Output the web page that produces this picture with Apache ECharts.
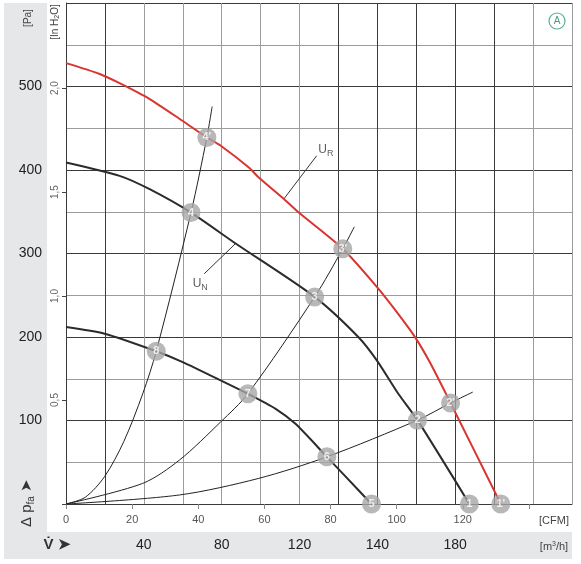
<!DOCTYPE html>
<html>
<head>
<meta charset="utf-8">
<script src="https://cdn.jsdelivr.net/npm/echarts@6/dist/echarts.min.js"></script>
<style>
html, body { margin: 0; padding: 0; background: #fff; }
#chart { width: 581px; height: 564px; }
</style>
</head>
<body>
<div id="chart"></div>
<script>
// fan curves: [CFM, Pa]
const curveUR = [[0,528],[10.2,515],[16.2,504],[25.3,485],[35.2,459],[42.6,439],[46.8,429],[55.3,403],[58.3,391],[65.4,367],[70.4,349],[83.7,305.6],[94,260],[100,230],[105.7,199],[110,170],[116.3,121],[131.5,0]];
const curveUN = [[0,409],[16.2,393],[25.3,377],[37.8,349],[51.3,312],[75.2,248],[88.4,200],[94,172],[100.5,132],[106.3,100.4],[122,0]];
const curveLow = [[0,212],[11.7,204],[27.3,183],[35.3,170],[46.8,148],[55,132],[63.4,114],[69.4,96],[78.9,56.5],[88.4,16.7],[92.4,0]];

// system resistance curves
const systemA = [[0,0],[5.8,8],[11.7,33],[17.5,75],[23.2,132],[27.3,183],[37.8,349],[42.6,439],[44.2,476]];
const systemB = [[0,0],[23.2,24.7],[34.3,52.6],[46.8,98.4],[55,132],[75.2,248],[83.7,305.6],[87.2,332]];
const systemC = [[0,0],[34.3,10.8],[58.3,30.7],[78.9,56.5],[106.3,100.4],[116.3,121],[123,134]];

// operating points [CFM, Pa, label]
const opPoints = [[122,0,'1'],[131.5,0,"1'"],[106.3,100.4,'2'],[116.3,121,"2'"],[75.2,248,'3'],[83.7,305.6,"3'"],[37.8,349,'4'],[42.6,439,"4'"],[92.4,0,'5'],[78.9,56.5,'6'],[55,132,'7'],[27.3,183,'8']];

// annotation leaders and labels
const leaderUR = [[75.8,417],[65.9,365.4]];
const leaderUN = [[51.3,312],[41.8,275.7]];
const curveLabels = [[78.6,424,'{a|U}{s|R}'],[40.6,264,'{a|U}{s|N}']];

// axis ticks
const paLabels = [100, 200, 300, 400, 500];
const cfmLabels = [0, 20, 40, 60, 80, 100, 120];
const m3hTickValues = [40, 80, 120, 160, 200];
const m3hTickLabels = ['40', '80', '120', '140', '180'];
const m3hMax = 260;
const cfmMax = 260 / 1.699;
const inH2OMax = 600 / 249.089;

const font = "'Liberation Sans Narrow', 'Liberation Sans', Arial, sans-serif";
const dark = '#3a3a3a';
const gray = '#9c9c9c';

const chart = echarts.init(document.getElementById('chart'));

const thinLine = (data) => ({
    type: 'line', data: data, xAxisIndex: 1, smooth: 0.3, symbol: 'none',
    lineStyle: { color: '#222', width: 1 }, silent: true, z: 3
});
const fanLine = (data, color) => ({
    type: 'line', data: data, xAxisIndex: 1, smooth: 0.25, symbol: 'none',
    lineStyle: { color: color, width: 2 }, silent: true, z: 4
});

const option = {
    animation: false,
    grid: { left: 66, right: 9, top: 3, bottom: 60, outerBoundsMode: 'none' },
    xAxis: [
        {
            type: 'value', min: 0, max: m3hMax, interval: 20, position: 'bottom',
            axisLine: { show: true, lineStyle: { color: dark, width: 1 } },
            axisTick: { show: false },
            axisLabel: {
                margin: 34, fontSize: 14, color: '#222', fontFamily: font,
                formatter: v => {
                    const i = m3hTickValues.indexOf(v);
                    return i >= 0 ? m3hTickLabels[i] : '';
                }
            },
            splitLine: {
                show: true,
                lineStyle: { width: 1, color: [dark, dark, gray, gray, gray, gray, gray, dark, dark, dark, dark, dark, gray, gray] }
            }
        },
        {
            type: 'value', min: 0, max: cfmMax, interval: 20, position: 'bottom',
            axisLine: { show: false },
            axisTick: { show: true, inside: false, length: 5, lineStyle: { color: '#888' } },
            axisLabel: {
                margin: 10, fontSize: 11, color: '#555', fontFamily: font, showMaxLabel: false,
                formatter: v => cfmLabels.indexOf(v) >= 0 ? String(v) : ''
            },
            splitLine: { show: false }
        }
    ],
    yAxis: [
        {
            type: 'value', min: 0, max: 600, interval: 50, position: 'left',
            axisLine: { show: true, lineStyle: { color: dark, width: 1 } },
            axisTick: { show: false },
            axisLabel: {
                margin: 24, fontSize: 14, color: '#222', fontFamily: font,
                formatter: v => paLabels.indexOf(v) >= 0 ? String(v) : ''
            },
            splitLine: { show: true, lineStyle: { width: 1, color: [dark, gray] } }
        },
        {
            type: 'value', min: 0, max: inH2OMax, interval: 0.5, position: 'left',
            axisLine: { show: false },
            axisTick: { show: true, inside: false, length: 4, lineStyle: { color: '#444' } },
            axisLabel: {
                margin: 6, rotate: 90, fontSize: 10, color: '#666', fontFamily: font,
                showMaxLabel: false,
                formatter: v => v > 0 ? v.toFixed(1).replace('.', ',') : ''
            },
            splitLine: { show: false }
        }
    ],
    series: [
        thinLine(systemA),
        thinLine(systemB),
        thinLine(systemC),
        fanLine(curveLow, '#2b2b2b'),
        fanLine(curveUN, '#2b2b2b'),
        fanLine(curveUR, '#d8352f'),
        {
            type: 'line', data: leaderUR, xAxisIndex: 1, symbol: 'none',
            lineStyle: { color: '#333', width: 1 }, silent: true, z: 3
        },
        {
            type: 'line', data: leaderUN, xAxisIndex: 1, symbol: 'none',
            lineStyle: { color: '#333', width: 1 }, silent: true, z: 3
        },
        {
            type: 'scatter', data: curveLabels, xAxisIndex: 1, symbolSize: 0, silent: true,
            label: {
                show: true, position: 'inside', formatter: p => p.data[2],
                rich: {
                    a: { fontSize: 12, color: '#333', fontFamily: font },
                    s: { fontSize: 9, color: '#333', fontFamily: font, padding: [7, 0, 0, 0] }
                }
            }
        },
        {
            type: 'scatter', data: opPoints, xAxisIndex: 1, symbol: 'circle', symbolSize: 19,
            clip: false, silent: true, z: 6,
            itemStyle: { color: '#a6a6a6' },
            label: {
                show: true, position: 'inside', formatter: p => p.data[2],
                color: '#fff', fontSize: 11, fontWeight: 'bold', fontFamily: "'Liberation Sans', Arial, sans-serif"
            }
        }
    ],
    graphic: [
        // gray label bands
        { type: 'rect', z: -10, shape: { x: 4, y: 3, width: 43, height: 529 }, style: { fill: '#e6e7e8' } },
        { type: 'rect', z: -10, shape: { x: 4, y: 532, width: 568, height: 27 }, style: { fill: '#e6e7e8' } },
        {
            type: 'text', x: 28, y: 18, rotation: Math.PI / 2,
            style: { text: '[Pa]', fontSize: 10, fill: '#444', font: '10px ' + font, align: 'center', verticalAlign: 'middle' }
        },
        {
            type: 'text', x: 55, y: 22, rotation: Math.PI / 2,
            style: {
                text: '{a|[In H}{s|2}{a|O]}', align: 'center', verticalAlign: 'middle',
                rich: {
                    a: { fontSize: 10, fill: '#444', fontFamily: font },
                    s: { fontSize: 7, fill: '#444', fontFamily: font, padding: [5, 0, 0, 0] }
                }
            }
        },
        {
            type: 'text', x: 27, y: 503, rotation: Math.PI / 2,
            style: {
                text: '{a|Δ p}{s|fa}{a| ➤}', align: 'center', verticalAlign: 'middle',
                rich: {
                    a: { fontSize: 15, fill: '#333', fontFamily: font },
                    s: { fontSize: 10, fill: '#333', fontFamily: font, padding: [8, 0, 0, 0] }
                }
            }
        },
        {
            type: 'text', x: 57, y: 545,
            style: { text: 'V̇ ➤', font: 'bold 15px ' + font, fill: '#333', align: 'center', verticalAlign: 'middle' }
        },
        {
            type: 'text', x: 554, y: 521,
            style: { text: '[CFM]', font: '11px ' + font, fill: '#444', align: 'center', verticalAlign: 'middle' }
        },
        {
            type: 'text', x: 554, y: 547,
            style: {
                text: '{a|[m}{p|3}{a|/h]}', align: 'center', verticalAlign: 'middle',
                rich: {
                    a: { fontSize: 11, fill: '#444', fontFamily: font },
                    p: { fontSize: 7, fill: '#444', fontFamily: font, padding: [0, 0, 5, 0] }
                }
            }
        },
        {
            type: 'circle', shape: { cx: 557, cy: 21, r: 8 },
            style: { fill: '#fff', stroke: '#55b094', lineWidth: 1.2 }
        },
        {
            type: 'text', x: 557, y: 21,
            style: { text: 'A', font: '10px ' + font, fill: '#3e9f82', align: 'center', verticalAlign: 'middle' }
        }
    ]
};

chart.setOption(option);
window.addEventListener('resize', () => chart.resize());
</script>
</body>
</html>
